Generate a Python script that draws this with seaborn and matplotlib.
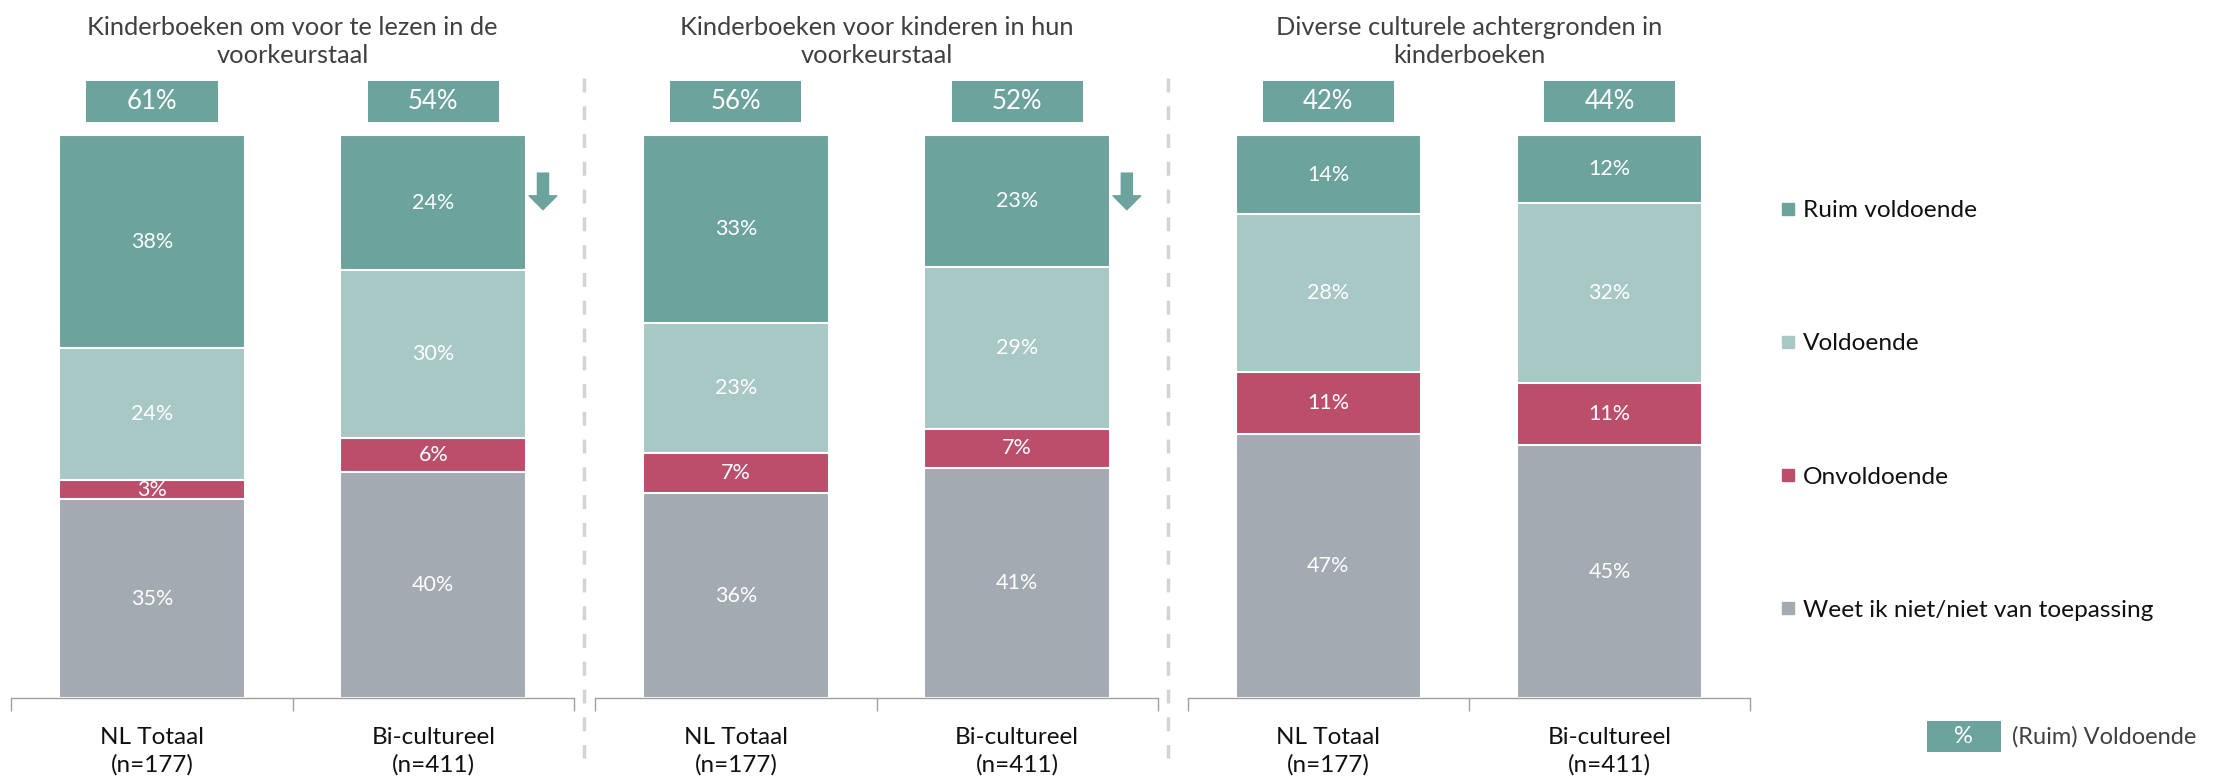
import matplotlib
matplotlib.use("Agg")
import matplotlib.pyplot as plt
import seaborn as sns
import pandas as pd
from matplotlib.lines import Line2D
from matplotlib.patches import Rectangle

# ---------------- data ----------------
groups = ["NL Totaal\n(n=177)", "Bi-cultureel\n(n=411)"]
titles = ["Kinderboeken om voor te lezen in de\nvoorkeurstaal",
          "Kinderboeken voor kinderen in hun\nvoorkeurstaal",
          "Diverse culturele achtergronden in\nkinderboeken"]
categories = ["Weet ik niet/niet van toepassing", "Onvoldoende", "Voldoende", "Ruim voldoende"]
weet_niet = [[35.4, 40.2], [36.4, 41.0], [47.0, 45.0]]
onvoldoende = [[3.3, 6.0], [7.2, 6.8], [11.0, 11.0]]
voldoende = [[23.6, 29.8], [23.1, 28.8], [28.0, 32.0]]
ruim_voldoende = [[37.7, 24.0], [33.3, 23.4], [14.0, 12.0]]
ruim_plus_voldoende = [[61, 54], [56, 52], [42, 44]]
arrow_flags = [[False, True], [False, True], [False, False]]

colors = {"Ruim voldoende": "#6DA39D", "Voldoende": "#A8C8C5",
          "Onvoldoende": "#BA4E6B", "Weet ik niet/niet van toepassing": "#A3AAB2"}

sns.set_style("white")
plt.rcParams["font.family"] = ["Lato", "DejaVu Sans"]

fig = plt.figure(figsize=(22.33, 7.81), dpi=100)
W, H = 1568.0, 548.0
ax_lefts = [8, 418, 834]
ax_w = 395
base_y, top_y = 490, 95

for p in range(3):
    ax = fig.add_axes([ax_lefts[p] / W, (H - base_y) / H, ax_w / W, (base_y - top_y) / H])
    segs = [weet_niet[p], onvoldoende[p], voldoende[p], ruim_voldoende[p]]
    cums = []
    run = [0, 0]
    for s in segs:
        run = [run[i] + s[i] for i in range(2)]
        cums.append(list(run))
    # draw from the top segment downwards so lower segments overlay
    for k in range(3, -1, -1):
        df = pd.DataFrame({"group": groups, "value": cums[k]})
        sns.barplot(data=df, x="group", y="value", order=groups, color=colors[categories[k]],
                    width=0.66, saturation=1, errorbar=None, edgecolor="white",
                    linewidth=1.5, ax=ax)
    # segment labels
    for k in range(4):
        for i in range(2):
            bottom = cums[k][i] - segs[k][i]
            ax.text(i, bottom + segs[k][i] / 2, f"{round(segs[k][i])}%", ha="center", va="center",
                    color="white", fontsize=15.5)
    # top boxes
    for i in range(2):
        ax.add_patch(Rectangle((i - 0.233, 102.3), 0.466, 7.3, facecolor=colors["Ruim voldoende"],
                               edgecolor="none", clip_on=False))
        ax.text(i, 105.95, f"{ruim_plus_voldoende[p][i]}%", ha="center", va="center",
                color="white", fontsize=18.5, clip_on=False)
        if arrow_flags[p][i]:
            ax.annotate("", xy=(i + 0.39, 86.8), xytext=(i + 0.39, 93.3),
                        arrowprops=dict(arrowstyle="simple,head_length=0.5,head_width=1.0,tail_width=0.4",
                                        color=colors["Ruim voldoende"], shrinkA=0, shrinkB=0,
                                        mutation_scale=20), annotation_clip=False)
        ax.text(i, -9.4, groups[i], ha="center", va="center", fontsize=17.5, color="#111111",
                fontweight="normal", linespacing=1.35, clip_on=False)
    ax.set_xlim(-0.5, 1.5)
    ax.set_ylim(0, 100)
    ax.set_xlabel("")
    ax.set_ylabel("")
    ax.set_yticks([])
    ax.set_xticks([-0.5, 0.5, 1.5])
    ax.set_xticklabels(["", "", ""])
    ax.tick_params(axis="x", which="major", bottom=True, length=9, width=1, color="#A0A0A0",
                   direction="out")
    for sp in ["left", "right", "top"]:
        ax.spines[sp].set_visible(False)
    ax.spines["bottom"].set_color("#A0A0A0")
    ax.spines["bottom"].set_linewidth(1)
    ax.patch.set_alpha(0)
    fig.text((ax_lefts[p] + ax_w / 2) / W, 1 - 29 / H, titles[p], ha="center", va="center",
             fontsize=18.3, color="#404040", linespacing=1.27)

# dashed dividers
for xd in [410, 820]:
    fig.add_artist(Line2D([xd / W, xd / W], [1 - 55 / H, 1 - 532 / H], color="#D3D3D3",
                          linewidth=2.5, linestyle=(0, (4, 4))))

# legend
handles = [Line2D([], [], marker="s", linestyle="none", markersize=9,
                  markerfacecolor=colors[c], markeredgecolor=colors[c])
           for c in categories[::-1]]
fig.legend(handles, categories[::-1], loc="center left", bbox_to_anchor=(1242 / W, 1 - 288 / H),
           frameon=False, fontsize=17.6, labelspacing=4.58, handlelength=0.6, handletextpad=0.3,
           borderpad=0, labelcolor="#111111")

# bottom legend for the boxes
fig.add_artist(Rectangle((1353 / W, 1 - 528 / H), 52 / W, 22 / H, facecolor=colors["Ruim voldoende"],
                         edgecolor="none", transform=fig.transFigure))
fig.text(1379 / W, 1 - 517 / H, "%", ha="center", va="center", color="white", fontsize=17)
fig.text(1413 / W, 1 - 517 / H, "(Ruim) Voldoende", ha="left", va="center", color="#404040",
         fontsize=17)

fig.savefig("out.png", dpi=100)
